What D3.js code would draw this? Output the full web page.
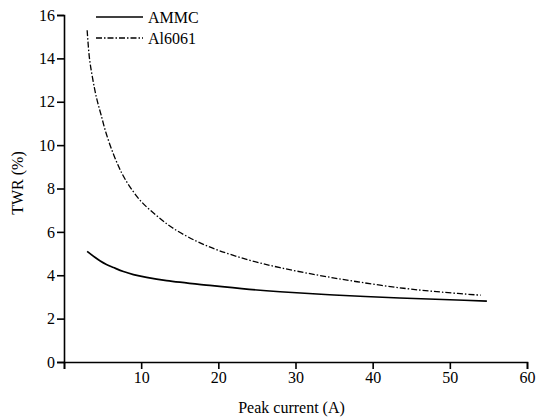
<!DOCTYPE html>
<html>
<head>
<meta charset="utf-8">
<script src="https://cdn.jsdelivr.net/npm/d3@7"></script>
<style>
  body { margin: 0; background: #fff; }
  svg text { font-family: "Liberation Serif", "Times New Roman", "DejaVu Serif", serif; }
</style>
</head>
<body>
<script>
// values
const xTicks = [0, 10, 20, 30, 40, 50, 60];
const yTicks = [0, 2, 4, 6, 8, 10, 12, 14, 16];

const ammcCurrent = [3, 4, 4.7, 5.5, 6.4, 7.7, 9, 10.7, 13.3, 18.9, 24, 28, 35, 43.5, 50, 54.8];
const ammcTwr = [5.1, 4.83, 4.66, 4.5, 4.36, 4.17, 4.03, 3.9, 3.75, 3.53, 3.35, 3.24, 3.09, 2.95, 2.87, 2.81];

const alCurrent = [3, 3.3, 3.7, 4.2, 4.8, 5.5, 6.5, 7.5, 8.5, 10, 12, 14, 17, 20, 24, 28, 33, 38, 44, 49, 54];
const alTwr = [15.3, 14.0, 13.1, 12.2, 11.4, 10.5, 9.5, 8.7, 8.1, 7.4, 6.75, 6.2, 5.6, 5.15, 4.7, 4.35, 4.0, 3.7, 3.4, 3.22, 3.08];

const width = 542, height = 419;
const margin = { top: 15, right: 15, bottom: 57, left: 64 };

const svg = d3.select("body").append("svg")
  .attr("width", width)
  .attr("height", height);

const x = d3.scaleLinear().domain([0, 60]).range([margin.left, width - margin.right]);
const y = d3.scaleLinear().domain([0, 16]).range([height - margin.bottom, margin.top]);

// x axis
const xAxis = svg.append("g")
  .attr("transform", `translate(0,${y(0)})`)
  .call(d3.axisBottom(x).tickValues(xTicks).tickSizeOuter(0).tickSize(7).tickPadding(3)
    .tickFormat(d => d === 0 ? "" : d));
xAxis.attr("font-family", null);
xAxis.select(".domain").attr("stroke-width", 1.6);
xAxis.selectAll(".tick line").attr("stroke-width", 1.6);
xAxis.selectAll("text").style("font-size", "16px").attr("fill", "#000");

// y axis
const yAxis = svg.append("g")
  .attr("transform", `translate(${x(0)},0)`)
  .call(d3.axisLeft(y).tickValues(yTicks).tickSizeOuter(0).tickSize(7).tickPadding(2));
yAxis.attr("font-family", null);
yAxis.select(".domain").attr("stroke-width", 1.6);
yAxis.selectAll(".tick line").attr("stroke-width", 1.6);
yAxis.selectAll("text").style("font-size", "16px").attr("fill", "#000");

// axis titles
svg.append("text")
  .attr("x", (x(0) + x(60)) / 2 - 4)
  .attr("y", 413)
  .attr("text-anchor", "middle")
  .style("font-size", "16px")
  .text("Peak current (A)");

svg.append("text")
  .attr("transform", `translate(23,183) rotate(-90)`)
  .attr("text-anchor", "middle")
  .style("font-size", "16px")
  .text("TWR (%)");

// lines
const line = d3.line()
  .x(d => x(d[0]))
  .y(d => y(d[1]))
  .curve(d3.curveCatmullRom.alpha(0.5));

svg.append("path")
  .datum(d3.zip(ammcCurrent, ammcTwr))
  .attr("fill", "none")
  .attr("stroke", "#000")
  .attr("stroke-width", 1.7)
  .attr("d", line);

svg.append("path")
  .datum(d3.zip(alCurrent, alTwr))
  .attr("fill", "none")
  .attr("stroke", "#000")
  .attr("stroke-width", 1.3)
  .attr("stroke-dasharray", "6,2,1.5,2")
  .attr("d", line);

// legend
const legend = svg.append("g").attr("transform", "translate(96,0)");
const legendItems = [
  { name: "AMMC", dash: null, w: 1.6 },
  { name: "Al6061", dash: "6,2,1.5,2", w: 1.3 }
];
legendItems.forEach((d, i) => {
  const ly = 17 + i * 21;
  legend.append("line")
    .attr("x1", 0).attr("x2", 47)
    .attr("y1", ly).attr("y2", ly)
    .attr("stroke", "#000")
    .attr("stroke-width", d.w)
    .attr("stroke-dasharray", d.dash);
  legend.append("text")
    .attr("x", 52)
    .attr("y", ly + 6)
    .style("font-size", "16px")
    .text(d.name);
});
</script>
</body>
</html>
